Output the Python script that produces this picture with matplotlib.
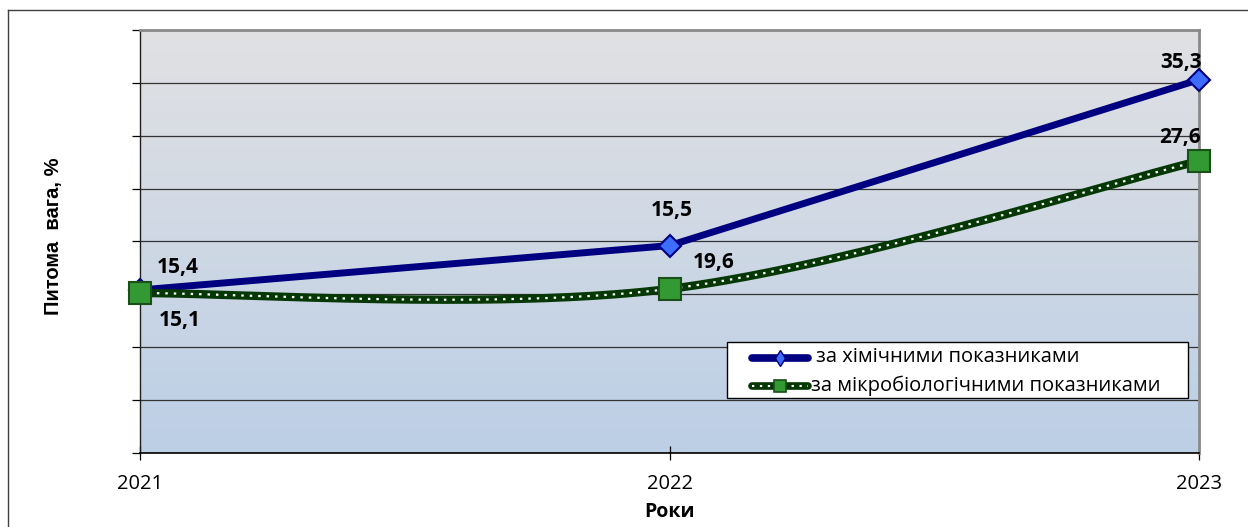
import numpy as np
import matplotlib.pyplot as plt
from matplotlib.lines import Line2D
from matplotlib.patches import Rectangle
from matplotlib.colors import LinearSegmentedColormap

plt.rcParams['font.family'] = ['Open Sans', 'DejaVu Sans']

years = ['2021', '2022', '2023']
chem = [15.4, 19.6, 35.3]
micro = [15.1, 15.5, 27.6]
chem_labels = ['15,4', '19,6', '35,3']
micro_labels = ['15,1', '15,5', '27,6']
series_names = ['за хімічними показниками', 'за мікробіологічними показниками']

# label offsets in points (labels were dragged around by hand)
chem_offsets = [(27, 16.5), (32, -12.5), (-13, 12.5)]
micro_offsets = [(29, -19.5), (1.5, 56.5), (-13.5, 17)]

NAVY = '#000080'
BLUE = '#3d6cff'
DKGREEN = '#063806'
GREEN = '#339933'
GREEN_EDGE = '#1a4f1a'
DOTS = (0, (1.1, 2.7))


def smooth_line(x, y, n=80):
    # smoothed line as in spreadsheet charts: bezier segments,
    # control points taken from the neighbouring points (tension 1/6)
    p = np.column_stack([x, y]).astype(float)
    p = np.vstack([p[:1], p, p[-1:]])
    t = np.linspace(0, 1, n)[:, None]
    out = []
    for k in range(1, len(p) - 2):
        a, b = p[k], p[k + 1]
        c1 = a + (p[k + 1] - p[k - 1]) / 6
        c2 = b - (p[k + 2] - p[k]) / 6
        seg = (1 - t) ** 3 * a + 3 * (1 - t) ** 2 * t * c1 + 3 * (1 - t) * t ** 2 * c2 + t ** 3 * b
        out.append(seg if k == 1 else seg[1:])
    out = np.vstack(out)
    return out[:, 0], out[:, 1]


W, H = 1248, 527
fig = plt.figure(figsize=(W / 100, H / 100), dpi=100)
ax = fig.add_axes([140 / W, 1 - 452.7 / H, (1199 - 140) / W, (452.7 - 30) / H])


def fx(px):
    return px / W


def fy(py):
    return 1 - py / H


x = np.arange(len(years))

# gradient fill of the plot area
bg = LinearSegmentedColormap.from_list('bg', ['#e1e1e3', '#bccfe6'])
ax.imshow(np.linspace(0, 1, 256).reshape(-1, 1), cmap=bg, extent=[0, 2, 0, 40],
          aspect='auto', origin='upper', zorder=-1)

ax.set_xlim(0, 2)
ax.set_ylim(0, 40)
ax.set_yticks(np.arange(0, 41, 5))
ax.yaxis.grid(True, color='#333333', lw=0.9)
ax.set_axisbelow(True)
ax.tick_params(axis='y', labelleft=False, direction='out', length=5.5, width=0.9)
ax.set_xticks(x)
ax.set_xticklabels(years)
ax.tick_params(axis='x', direction='inout', length=10, width=0.9, labelsize=14.5, pad=10)

ax.spines['left'].set_color('#202020')
ax.spines['left'].set_linewidth(1.0)
ax.spines['bottom'].set_color('black')
ax.spines['bottom'].set_linewidth(1.2)
for s in ['top', 'right']:
    ax.spines[s].set_color('#8a8a8a')
    ax.spines[s].set_linewidth(2)

# chemical indicators
ax.plot(x, chem, color=NAVY, lw=5, solid_joinstyle='round', marker='D', ms=11.5,
        mfc=BLUE, mec=NAVY, mew=1.5, zorder=3, clip_on=False)

# microbiological indicators: smoothed dark line with white dots
sx, sy = smooth_line(x, micro)
ax.plot(sx, sy, color=DKGREEN, lw=6, solid_capstyle='butt', zorder=4, clip_on=False)
ax.plot(sx, sy, color='white', lw=1.6, linestyle=DOTS, dash_capstyle='butt',
        zorder=4.1, clip_on=False)
ax.plot(x, micro, ls='none', marker='s', ms=16.5, mfc=GREEN, mec=GREEN_EDGE, mew=1.5,
        zorder=5, clip_on=False)

for xi, v, txt, off in zip(x, chem, chem_labels, chem_offsets):
    ax.annotate(txt, (xi, v), xytext=off, textcoords='offset points', ha='center',
                va='center', fontsize=15, fontweight='bold', zorder=6)
for xi, v, txt, off in zip(x, micro, micro_labels, micro_offsets):
    ax.annotate(txt, (xi, v), xytext=off, textcoords='offset points', ha='center',
                va='center', fontsize=15, fontweight='bold', zorder=6)

# legend box, drawn by hand to get the spreadsheet look
tf = fig.transFigure
fig.add_artist(Rectangle((fx(727), fy(398)), fx(1188) - fx(727), fy(342) - fy(398),
                         transform=tf, facecolor='white', edgecolor='black', lw=1.0,
                         zorder=10))
hx = [fx(752), fx(780), fx(808)]
r1, r2 = fy(357.5), fy(385.5)
fig.add_artist(Line2D(hx, [r1] * 3, transform=tf, color=NAVY, lw=5.5, solid_capstyle='round',
                      marker='d', ms=8, mfc=BLUE, mec=NAVY, mew=1, markevery=[1], zorder=11))
fig.add_artist(Line2D(hx, [r2] * 3, transform=tf, color=DKGREEN, lw=5.5,
                      solid_capstyle='round', zorder=11))
fig.add_artist(Line2D(hx, [r2] * 3, transform=tf, color='white', lw=1.5, linestyle=DOTS,
                      zorder=11.1))
fig.add_artist(Line2D([hx[1]], [r2], transform=tf, ls='none', marker='s', ms=8.5, mfc=GREEN,
                      mec=GREEN_EDGE, mew=1.2, zorder=11.2))
fig.text(fx(816), r1, series_names[0], fontsize=14.5, va='center', ha='left', zorder=12)
fig.text(fx(811), r2, series_names[1], fontsize=14.5, va='center', ha='left', zorder=12)

ax.set_xlabel('Роки', fontsize=14, fontweight='bold', va='center')
ax.xaxis.set_label_coords(0.5, -59.3 / 422.7)
ax.set_ylabel('Питома  вага, %', fontsize=14.5, fontweight='bold', va='center',
              family='Liberation Sans')
ax.yaxis.set_label_coords(-86.5 / 1059, 216 / 422.7)

# outer frame of the chart
fig.add_artist(Line2D([fx(8), fx(8)], [0, fy(10)], transform=tf, color='#404040', lw=1))
fig.add_artist(Line2D([fx(8), 1], [fy(10), fy(10)], transform=tf, color='#404040', lw=1))

fig.savefig('out.png', dpi=100)
